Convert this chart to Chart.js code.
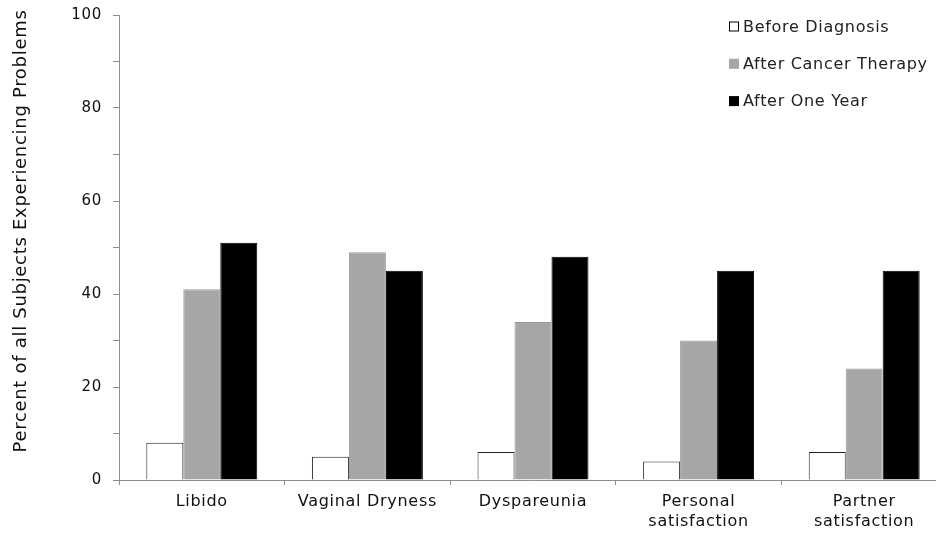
<!DOCTYPE html>
<html>
<head>
<meta charset="utf-8">
<script src="https://cdn.jsdelivr.net/npm/chart.js@4.4.0/dist/chart.umd.min.js"></script>
<style>
  html,body{margin:0;padding:0;background:#fff;overflow:hidden;}
  #c{display:block;}
</style>
</head>
<body>
<canvas id="c" width="947" height="533" style="width:947px;height:533px"></canvas>
<script>
const categories=['Libido','Vaginal Dryness','Dyspareunia',['Personal','satisfaction'],['Partner','satisfaction']];
const beforeDiagnosis=[8,5,6,4,6];
const afterTherapy=[41,49,34,30,24];
const afterOneYear=[51,45,48,45,45];
const seriesNames=['Before Diagnosis','After Cancer Therapy','After One Year'];
const yTicks=[0,20,40,60,80,100];
const yTitle='Percent of all Subjects Experiencing Problems';

const FONT='"DejaVu Sans", Verdana, sans-serif';
const axisColor='#8c8c8c';

// the original font runs wider than DejaVu, so spread letters a little
const spacing={
  id:'spacing',
  beforeLayout(chart){chart.ctx.letterSpacing='0.7px';},
  beforeDraw(chart){chart.ctx.letterSpacing='0.7px';}
};

// y title sits a bit above the middle in the original, so draw it here
const sideTitle={
  id:'sideTitle',
  afterDraw(chart){
    const ctx=chart.ctx;
    ctx.save();
    ctx.font='18px '+FONT;
    ctx.fillStyle='#111';
    ctx.textAlign='center';
    ctx.textBaseline='middle';
    ctx.translate(21,231);
    ctx.rotate(-Math.PI/2);
    ctx.fillText(yTitle,0,0);
    ctx.restore();
  }
};

// legend drawn inside the plot, top right
const legendInside={
  id:'legendInside',
  afterDraw(chart){
    const ctx=chart.ctx;
    ctx.save();
    ctx.font='16px '+FONT;
    ctx.textBaseline='middle';
    chart.data.datasets.forEach((ds,i)=>{
      const y=26.5+i*37.3;
      const x=729;
      ctx.fillStyle=ds.backgroundColor;
      ctx.fillRect(x,y-5,10,10);
      if(i==0){
        ctx.strokeStyle='#000';
        ctx.lineWidth=1;
        ctx.strokeRect(x+0.5,y-4.5,9,9);
      }
      ctx.fillStyle='#222';
      ctx.fillText(ds.label,x+14,y+1);
    });
    ctx.restore();
  }
};

new Chart(document.getElementById('c'),{
  type:'bar',
  data:{
    labels:categories,
    datasets:[
      {label:seriesNames[0],data:beforeDiagnosis,backgroundColor:'#ffffff',borderColor:'#222',borderWidth:1},
      {label:seriesNames[1],data:afterTherapy,backgroundColor:'#a6a6a6',borderColor:'#9a9a9a',borderWidth:1},
      {label:seriesNames[2],data:afterOneYear,backgroundColor:'#000000',borderColor:'#000',borderWidth:1}
    ]
  },
  options:{
    responsive:false,
    animation:false,
    layout:{padding:{top:15,right:0,left:0,bottom:0}},
    datasets:{bar:{categoryPercentage:0.67,barPercentage:1}},
    plugins:{legend:{display:false},tooltip:{enabled:false}},
    scales:{
      x:{
        grid:{offset:true,drawOnChartArea:false,tickLength:5,color:axisColor},
        border:{color:axisColor},
        ticks:{color:'#111',font:{family:FONT,size:16,lineHeight:1.25},padding:7,maxRotation:0,autoSkip:false},
        afterFit(s){s.height=53;}
      },
      y:{
        min:0,max:100,
        grid:{drawOnChartArea:false,tickLength:6,color:axisColor},
        border:{color:axisColor},
        ticks:{stepSize:10,color:'#111',font:{family:FONT,size:15},padding:11,
          callback:v=>yTicks.includes(v)?String(v):''},
        afterFit(s){s.width=119;s.paddingTop=0;s.paddingBottom=0;}
      }
    }
  },
  plugins:[spacing,sideTitle,legendInside]
});
</script>
</body>
</html>
